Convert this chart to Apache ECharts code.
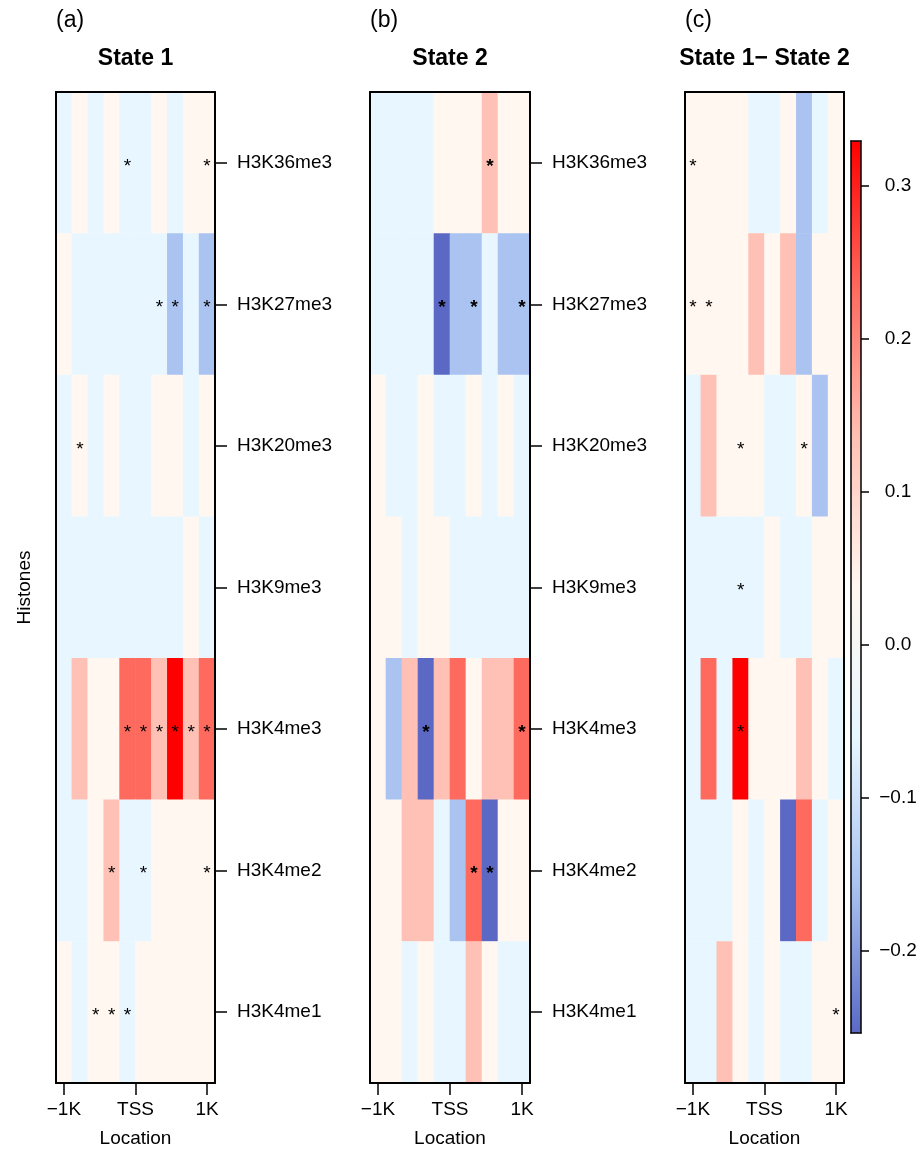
<!DOCTYPE html>
<html><head><meta charset="utf-8">
<script src="https://cdn.jsdelivr.net/npm/echarts@6/dist/echarts.min.js"></script>
<style>html,body{margin:0;padding:0;background:#fff}#chart{width:920px;height:1150px}</style>
</head><body><div id="chart"></div>
<script>
// ---------------- data ----------------
const histones = ['H3K36me3','H3K27me3','H3K20me3','H3K9me3','H3K4me3','H3K4me2','H3K4me1'];
const locations = [-1000,-778,-556,-333,-111,111,333,556,778,1000];
const binWidth = 222.2;
const locationTicks = [-1000, 0, 1000];
const locationTickLabels = ['\u22121K','TSS','1K'];
const panelLetters = ['(a)','(b)','(c)'];
const panelTitles = ['State 1','State 2','State 1\u2212 State 2'];

// rows top->bottom (histones), columns left->right (locations)
const state1 = [
  [-0.02, 0.02,-0.02, 0.02,-0.02,-0.02, 0.02,-0.02, 0.02, 0.02],
  [ 0.02,-0.02,-0.02,-0.02,-0.02,-0.02,-0.02,-0.10,-0.02,-0.10],
  [-0.02, 0.02,-0.02, 0.02,-0.02,-0.02, 0.02, 0.02,-0.02, 0.02],
  [-0.02,-0.02,-0.02,-0.02,-0.02,-0.02,-0.02,-0.02, 0.02,-0.02],
  [-0.02, 0.10, 0.02, 0.02, 0.20, 0.20, 0.10, 0.30, 0.10, 0.20],
  [-0.02,-0.02, 0.02, 0.10,-0.02,-0.02, 0.02, 0.02, 0.02, 0.02],
  [ 0.02,-0.02, 0.02, 0.02,-0.02, 0.02, 0.02, 0.02, 0.02, 0.02]
];
const state2 = [
  [-0.02,-0.02,-0.02,-0.02, 0.02, 0.02, 0.02, 0.10, 0.02, 0.02],
  [-0.02,-0.02,-0.02,-0.02,-0.20,-0.10,-0.10,-0.02,-0.10,-0.10],
  [ 0.02,-0.02,-0.02, 0.02,-0.02,-0.02, 0.02,-0.02, 0.02,-0.02],
  [ 0.02, 0.02,-0.02, 0.02, 0.02,-0.02,-0.02,-0.02,-0.02,-0.02],
  [ 0.02,-0.10, 0.10,-0.20, 0.10, 0.20, 0.02, 0.10, 0.10, 0.20],
  [ 0.02, 0.02, 0.10, 0.10,-0.02,-0.10, 0.20,-0.20, 0.02, 0.02],
  [ 0.02, 0.02,-0.02, 0.02,-0.02,-0.02, 0.10, 0.02,-0.02,-0.02]
];
const stateDiff = [
  [ 0.02, 0.02, 0.02, 0.02,-0.02,-0.02, 0.02,-0.10,-0.02, 0.02],
  [ 0.02, 0.02, 0.02, 0.02, 0.10, 0.02, 0.10,-0.10, 0.02, 0.02],
  [-0.02, 0.10, 0.02, 0.02, 0.02,-0.02,-0.02, 0.02,-0.10, 0.02],
  [-0.02,-0.02,-0.02,-0.02,-0.02, 0.02,-0.02,-0.02, 0.02, 0.02],
  [-0.02, 0.20,-0.02, 0.30, 0.02, 0.02, 0.02, 0.10, 0.02,-0.02],
  [-0.02,-0.02,-0.02, 0.02,-0.02, 0.02,-0.20, 0.20,-0.02, 0.02],
  [-0.02,-0.02, 0.10, 0.02,-0.02, 0.02,-0.02,-0.02, 0.02, 0.02]
];
// significant cells: [row, column]
const stars1 = [[0,4],[0,9],[1,6],[1,7],[1,9],[2,1],[4,4],[4,5],[4,6],[4,7],[4,8],[4,9],[5,3],[5,5],[5,9],[6,2],[6,3],[6,4]];
const stars2 = [[0,7],[1,4],[1,6],[1,9],[4,3],[4,9],[5,6],[5,7]];
const starsDiff = [[0,0],[1,0],[1,1],[2,3],[2,7],[3,3],[4,3],[6,9]];

const colorbarTicks = [-0.2,-0.1,0.0,0.1,0.2,0.3];
const colorbarMin = -0.254, colorbarMax = 0.329;

// ---------------- styling ----------------
const FONT = "'Liberation Sans', Arial, Helvetica, sans-serif";
const palette = ['#5b69c4','#aac3f0','#e8f7ff','#fff7f0','#ffc1b5','#ff6a5f','#ff0000'];
const grids = [
  {left:56, top:92, width:159, height:991},
  {left:370, top:92, width:160, height:991},
  {left:685, top:92, width:159, height:991},
  {left:851, top:141, width:10, height:892}
];
const panels = [
  {values: state1, stars: stars1, bold: false, rowLabels: true},
  {values: state2, stars: stars2, bold: true, rowLabels: true},
  {values: stateDiff, stars: starsDiff, bold: false, rowLabels: false}
];

function buildData(values, stars) {
  const out = [];
  values.forEach((row, r) => row.forEach((v, c) => {
    const s = stars.some(p => p[0] === r && p[1] === c) ? 1 : 0;
    out.push([locations[c], r, v, s]);
  }));
  return out;
}

function makeRender(bold) {
  return function (params, api) {
    const c = api.coord([api.value(0), api.value(1)]);
    const w = api.size([binWidth, 0])[0];
    const h = api.size([0, 1])[1];
    const children = [{
      type: 'rect',
      shape: {x: c[0] - w / 2 - 0.3, y: c[1] - h / 2 - 0.3, width: w + 0.6, height: h + 0.6},
      style: {fill: api.visual('color')}
    }];
    if (api.value(3)) {
      children.push({
        type: 'text', x: c[0], y: c[1] + 3.5, z2: 10,
        style: {text: '*', fill: '#000', font: (bold ? 'bold ' : '') + '19px ' + FONT,
                align: 'center', verticalAlign: 'middle'}
      });
    }
    return {type: 'group', children};
  };
}

const frameLine = {show: true, onZero: false, lineStyle: {color: '#000', width: 2}};
const thinFrame = {show: true, onZero: false, lineStyle: {color: '#000', width: 1.5}};
const xAxes = [], yAxes = [], series = [], graphics = [];

panels.forEach((p, i) => {
  xAxes.push({
    type: 'value', gridIndex: i, position: 'bottom', min: -1111, max: 1111, z: 5,
    axisLine: frameLine, splitLine: {show: false},
    axisTick: {show: true, length: 12, lineStyle: {color: '#000', width: 1.5}, customValues: locationTicks},
    axisLabel: {show: true, customValues: locationTicks, margin: 17, color: '#000', fontSize: 19, fontFamily: FONT,
                formatter: v => locationTickLabels[locationTicks.indexOf(v)]},
    name: 'Location', nameLocation: 'middle', nameGap: 46,
    nameTextStyle: {color: '#000', fontSize: 19, fontFamily: FONT}
  });
  xAxes.push({
    type: 'value', gridIndex: i, position: 'top', min: -1111, max: 1111, z: 5,
    axisLine: frameLine, splitLine: {show: false}, axisTick: {show: false}, axisLabel: {show: false}
  });
  yAxes.push({
    type: 'category', gridIndex: i, position: 'right', inverse: true, data: histones, z: 5,
    axisLine: frameLine, splitLine: {show: false},
    axisTick: {show: p.rowLabels, alignWithLabel: true, length: 12, lineStyle: {color: '#000', width: 1.5}},
    axisLabel: {show: p.rowLabels, margin: 22, color: '#000', fontSize: 19, fontFamily: FONT}
  });
  yAxes.push(Object.assign({
    type: 'category', gridIndex: i, position: 'left', inverse: true, data: histones, z: 5,
    axisLine: frameLine, splitLine: {show: false}, axisTick: {show: false}, axisLabel: {show: false}
  }, i === 0 ? {name: 'Histones', nameLocation: 'middle', nameRotate: 90, nameGap: 22,
    nameTextStyle: {color: '#000', fontSize: 19, fontFamily: FONT}} : {}));
  series.push({
    type: 'custom', xAxisIndex: 2 * i, yAxisIndex: 2 * i,
    renderItem: makeRender(p.bold), data: buildData(p.values, p.stars),
    encode: {x: 0, y: 1}, silent: true
  });
  const g = grids[i];
  graphics.push({type: 'text', left: g.left, top: 9,
    style: {text: panelLetters[i], font: '23px ' + FONT, fill: '#000'}});
  graphics.push({type: 'text', x: g.left + g.width / 2, y: 59,
    style: {text: panelTitles[i], font: 'bold 23px ' + FONT, fill: '#000', align: 'center', verticalAlign: 'middle'}});
});

// colorbar frame / axis
xAxes.push({type: 'value', gridIndex: 3, position: 'bottom', min: 0, max: 1, z: 5,
  axisLine: thinFrame, splitLine: {show: false}, axisTick: {show: false}, axisLabel: {show: false}});
xAxes.push({type: 'value', gridIndex: 3, position: 'top', min: 0, max: 1, z: 5,
  axisLine: thinFrame, splitLine: {show: false}, axisTick: {show: false}, axisLabel: {show: false}});
yAxes.push({type: 'value', gridIndex: 3, position: 'right', min: colorbarMin, max: colorbarMax, z: 5,
  axisLine: thinFrame, splitLine: {show: false},
  axisTick: {show: true, length: 8, lineStyle: {color: '#000', width: 1.5}, customValues: colorbarTicks},
  axisLabel: {show: true, customValues: colorbarTicks, margin: 37, align: 'center', color: '#000', fontSize: 19, fontFamily: FONT,
    formatter: v => (v < -1e-9 ? '\u2212' : '') + Math.abs(v).toFixed(1)}});
yAxes.push({type: 'value', gridIndex: 3, position: 'left', min: colorbarMin, max: colorbarMax, z: 5,
  axisLine: thinFrame, splitLine: {show: false}, axisTick: {show: false}, axisLabel: {show: false}});
series.push({type: 'scatter', xAxisIndex: 6, yAxisIndex: 6, data: [], silent: true});

const option = {
  animation: false,
  backgroundColor: '#fff',
  grid: grids.map(g => Object.assign({outerBoundsMode: 'none', containLabel: false}, g)),
  xAxis: xAxes,
  yAxis: yAxes,
  visualMap: [
    {type: 'piecewise', show: false, seriesIndex: [0, 1, 2], dimension: 2,
     pieces: [
       {lt: -0.17, color: palette[0]},
       {gte: -0.17, lt: -0.087, color: palette[1]},
       {gte: -0.087, lt: 0, color: palette[2]},
       {gte: 0, lt: 0.079, color: palette[3]},
       {gte: 0.079, lt: 0.162, color: palette[4]},
       {gte: 0.162, lt: 0.246, color: palette[5]},
       {gte: 0.246, color: palette[6]}
     ]},
    {type: 'continuous', seriesIndex: 3, min: colorbarMin, max: colorbarMax, orient: 'vertical',
     left: 851, top: 141, itemWidth: 10, itemHeight: 892, padding: 0, text: null, calculable: false,
     hoverLink: false, realtime: false, inRange: {color: palette}}
  ],
  graphic: graphics,
  series: series
};

const chart = echarts.init(document.getElementById('chart'), null, {renderer: 'canvas'});
chart.setOption(option);
</script>
</body></html>
